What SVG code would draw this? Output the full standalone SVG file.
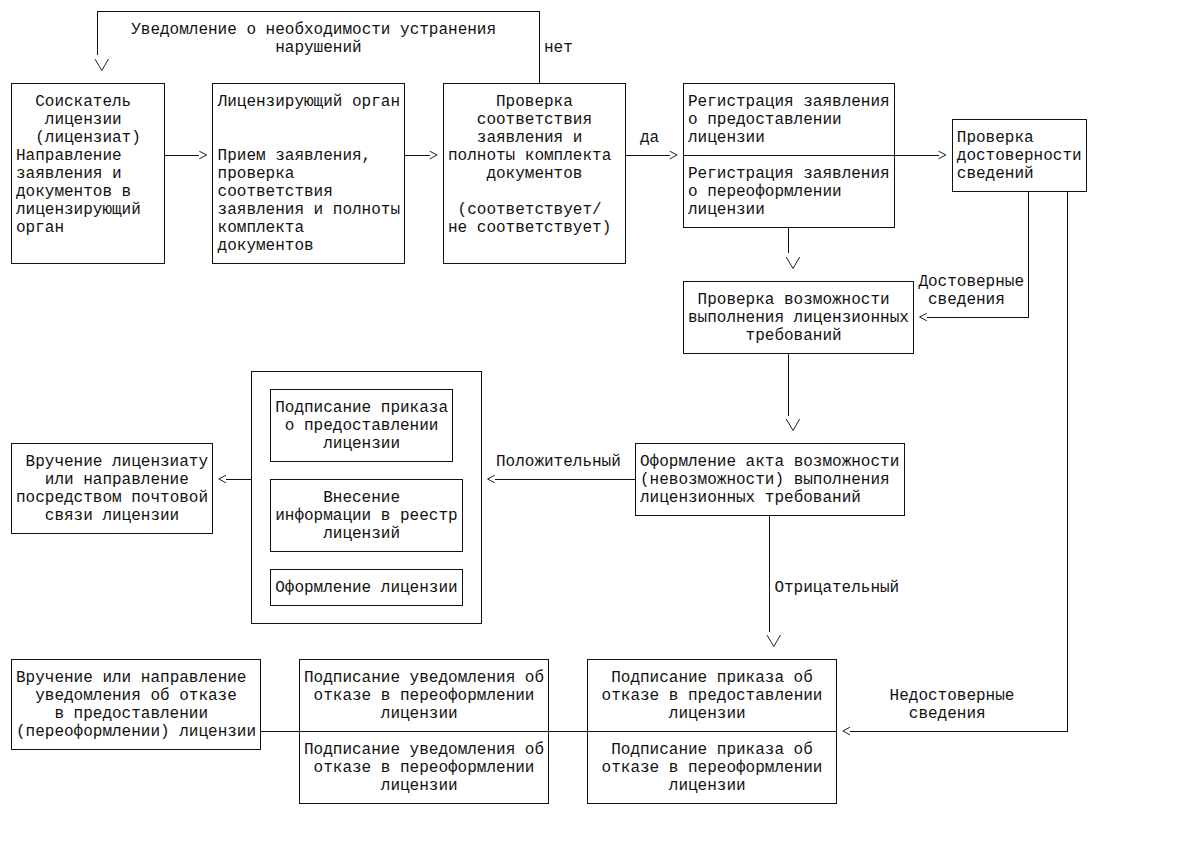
<svg xmlns="http://www.w3.org/2000/svg" xmlns:xlink="http://www.w3.org/1999/xlink" width="1177" height="841" viewBox="0 0 1177 841">
<style>
.t{font-family:"Liberation Mono","Courier New",monospace;font-size:16px;fill:#111}
.b{fill:none;stroke:#111;stroke-width:1;shape-rendering:crispEdges}
.c{fill:none;stroke:#111;stroke-width:1;shape-rendering:crispEdges}
.ah{fill:none;stroke:#222;stroke-width:1}
</style>
<defs>
<path id="gt" class="ah" d="M0.9,-3.8 L8.3,0 L0.9,3.8"/>
<path id="lt" class="ah" d="M8.4,-3.8 L1.2,0 L8.4,3.8"/>
<path id="dn" class="ah" d="M2.2,-11 L9,0.5 L15.7,-11"/>
</defs>
<rect width="1177" height="841" fill="#fff"/>

<g id="connectors">
<polyline class="c" points="539.2,83 539.2,11 97.6,11 97.6,55"/>
<use xlink:href="#dn" x="92.8" y="70"/>
<text class="t" x="131.2" y="34">Уведомление о необходимости устранения</text>
<text class="t" x="275.2" y="52">нарушений</text>
<text class="t" x="544" y="52">нет</text>

<line class="c" x1="164.8" y1="155" x2="199.3" y2="155"/>
<use xlink:href="#gt" x="198.4" y="155"/>
<line class="c" x1="404.8" y1="155" x2="429.7" y2="155"/>
<use xlink:href="#gt" x="428.8" y="155"/>
<line class="c" x1="625.6" y1="155" x2="669.7" y2="155"/>
<use xlink:href="#gt" x="668.8" y="155"/>
<text class="t" x="640" y="142">да</text>
<line class="c" x1="894.4" y1="155" x2="938.5" y2="155"/>
<use xlink:href="#gt" x="937.6" y="155"/>

<line class="c" x1="788.8" y1="227" x2="788.8" y2="253"/>
<use xlink:href="#dn" x="784" y="268"/>

<polyline class="c" points="1028.8,191 1028.8,317 926.8,317"/>
<use xlink:href="#lt" x="918.4" y="317"/>
<text class="t" x="918.4" y="286">Достоверные</text>
<text class="t" x="928" y="304">сведения</text>

<line class="c" x1="788.8" y1="353" x2="788.8" y2="416"/>
<use xlink:href="#dn" x="784" y="430"/>

<line class="c" x1="635.2" y1="479" x2="494.8" y2="479"/>
<use xlink:href="#lt" x="486.4" y="479"/>
<text class="t" x="496" y="466">Положительный</text>

<line class="c" x1="251.2" y1="479" x2="226" y2="479"/>
<use xlink:href="#lt" x="217.6" y="479"/>

<line class="c" x1="769.6" y1="515" x2="769.6" y2="632"/>
<use xlink:href="#dn" x="764.8" y="646"/>
<text class="t" x="774.4" y="592">Отрицательный</text>

<polyline class="c" points="1067.2,191 1067.2,731 850,731"/>
<use xlink:href="#lt" x="841.6" y="731"/>
<text class="t" x="889.6" y="700">Недостоверные</text>
<text class="t" x="908.8" y="718">сведения</text>

<line class="c" x1="548.8" y1="731" x2="587.2" y2="731"/>
<line class="c" x1="260.8" y1="731" x2="299.2" y2="731"/>
</g>

<g id="n1">
<rect class="b" x="11.2" y="83" width="153.6" height="180"/>
<text class="t" x="35.2" y="106">Соискатель</text>
<text class="t" x="44.8" y="124">лицензии</text>
<text class="t" x="35.2" y="142">(лицензиат)</text>
<text class="t" x="16" y="160">Направление</text>
<text class="t" x="16" y="178">заявления и</text>
<text class="t" x="16" y="196">документов в</text>
<text class="t" x="16" y="214">лицензирующий</text>
<text class="t" x="16" y="232">орган</text>
</g>

<g id="n2">
<rect class="b" x="212.8" y="83" width="192" height="180"/>
<text class="t" x="217.6" y="106">Лицензирующий орган</text>
<text class="t" x="217.6" y="160">Прием заявления,</text>
<text class="t" x="217.6" y="178">проверка</text>
<text class="t" x="217.6" y="196">соответствия</text>
<text class="t" x="217.6" y="214">заявления и полноты</text>
<text class="t" x="217.6" y="232">комплекта</text>
<text class="t" x="217.6" y="250">документов</text>
</g>

<g id="n3">
<rect class="b" x="443.2" y="83" width="182.4" height="180"/>
<text class="t" x="496" y="106">Проверка</text>
<text class="t" x="476.8" y="124">соответствия</text>
<text class="t" x="476.8" y="142">заявления и</text>
<text class="t" x="448" y="160">полноты комплекта</text>
<text class="t" x="486.4" y="178">документов</text>
<text class="t" x="457.6" y="214">(соответствует/</text>
<text class="t" x="448" y="232">не соответствует)</text>
</g>

<g id="n4">
<rect class="b" x="683.2" y="83" width="211.2" height="144"/>
<line class="b" x1="683.2" y1="155" x2="894.4" y2="155"/>
<text class="t" x="688" y="106">Регистрация заявления</text>
<text class="t" x="688" y="124">о предоставлении</text>
<text class="t" x="688" y="142">лицензии</text>
<text class="t" x="688" y="178">Регистрация заявления</text>
<text class="t" x="688" y="196">о переоформлении</text>
<text class="t" x="688" y="214">лицензии</text>
</g>

<g id="n5">
<rect class="b" x="952" y="119" width="134.4" height="72"/>
<text class="t" x="956.8" y="142">Проверка</text>
<text class="t" x="956.8" y="160">достоверности</text>
<text class="t" x="956.8" y="178">сведений</text>
</g>

<g id="n6">
<rect class="b" x="683.2" y="281" width="230.4" height="72"/>
<text class="t" x="697.6" y="304">Проверка возможности</text>
<text class="t" x="688" y="322">выполнения лицензионных</text>
<text class="t" x="745.6" y="340">требований</text>
</g>

<g id="n7">
<rect class="b" x="635.2" y="443" width="268.8" height="72"/>
<text class="t" x="640" y="466">Оформление акта возможности</text>
<text class="t" x="640" y="484">(невозможности) выполнения</text>
<text class="t" x="640" y="502">лицензионных требований</text>
</g>

<g id="n8">
<rect class="b" x="251.2" y="371" width="230.4" height="252"/>
<g id="n8a">
<rect class="b" x="270.4" y="389" width="182.4" height="72"/>
<text class="t" x="275.2" y="412">Подписание приказа</text>
<text class="t" x="284.8" y="430">о предоставлении</text>
<text class="t" x="323.2" y="448">лицензии</text>
</g>
<g id="n8b">
<rect class="b" x="270.4" y="479" width="192" height="72"/>
<text class="t" x="323.2" y="502">Внесение</text>
<text class="t" x="275.2" y="520">информации в реестр</text>
<text class="t" x="323.2" y="538">лицензий</text>
</g>
<g id="n8c">
<rect class="b" x="270.4" y="569" width="192" height="36"/>
<text class="t" x="275.2" y="592">Оформление лицензии</text>
</g>
</g>

<g id="n9">
<rect class="b" x="11.2" y="443" width="201.6" height="90"/>
<text class="t" x="25.6" y="466">Вручение лицензиату</text>
<text class="t" x="44.8" y="484">или направление</text>
<text class="t" x="16" y="502">посредством почтовой</text>
<text class="t" x="44.8" y="520">связи лицензии</text>
</g>

<g id="n10">
<rect class="b" x="11.2" y="659" width="249.6" height="90"/>
<text class="t" x="16" y="682">Вручение или направление</text>
<text class="t" x="35.2" y="700">уведомления об отказе</text>
<text class="t" x="54.4" y="718">в предоставлении</text>
<text class="t" x="16" y="736">(переоформлении) лицензии</text>
</g>

<g id="n11">
<rect class="b" x="299.2" y="659" width="249.6" height="144"/>
<line class="b" x1="299.2" y1="731" x2="548.8" y2="731"/>
<text class="t" x="304" y="682">Подписание уведомления об</text>
<text class="t" x="313.6" y="700">отказе в переоформлении</text>
<text class="t" x="380.8" y="718">лицензии</text>
<text class="t" x="304" y="754">Подписание уведомления об</text>
<text class="t" x="313.6" y="772">отказе в переоформлении</text>
<text class="t" x="380.8" y="790">лицензии</text>
</g>

<g id="n12">
<rect class="b" x="587.2" y="659" width="249.6" height="144"/>
<line class="b" x1="587.2" y1="731" x2="836.8" y2="731"/>
<text class="t" x="611.2" y="682">Подписание приказа об</text>
<text class="t" x="601.6" y="700">отказе в предоставлении</text>
<text class="t" x="668.8" y="718">лицензии</text>
<text class="t" x="611.2" y="754">Подписание приказа об</text>
<text class="t" x="601.6" y="772">отказе в переоформлении</text>
<text class="t" x="668.8" y="790">лицензии</text>
</g>
</svg>
